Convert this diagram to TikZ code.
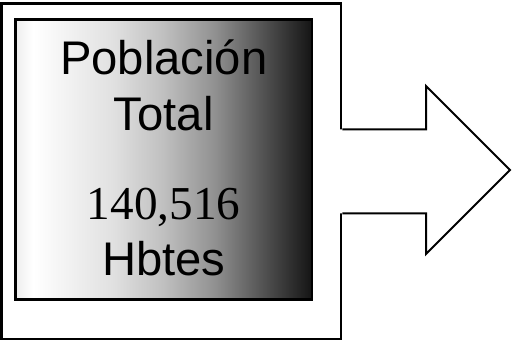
\documentclass[tikz,border=0pt]{standalone}
\usepackage{fontspec}
\setmainfont{Liberation Serif}
\newfontfamily\arialfont{Liberation Sans}
\usepackage{xcolor}
\usetikzlibrary{positioning,calc}
\definecolor{grisA}{gray}{0.93}
\definecolor{grisB}{gray}{0.88}
\definecolor{grisC}{gray}{0.75}
\definecolor{grisD}{gray}{0.57}
\definecolor{grisE}{gray}{0.33}
\definecolor{grisF}{gray}{0.08}
\pgfdeclarehorizontalshading{poblshade}{100bp}{color(0bp)=(grisA); color(25bp)=(grisA); color(28bp)=(white); color(41.5bp)=(grisB); color(50bp)=(grisC); color(58.5bp)=(grisD); color(66.5bp)=(grisE); color(75bp)=(grisF); color(100bp)=(grisF)}

\begin{document}
\begin{tikzpicture}[x=0.75pt,y=0.75pt,
    texto/.style={anchor=base,inner sep=0pt,font=\fontsize{35.4}{40}\selectfont}]
    \useasboundingbox (0,0) rectangle (512,343);
    % Outer frame
    \node[draw,line width=2pt,minimum width=254.6pt,minimum height=251.8pt,inner sep=0pt] (marco) at (171.25,171.85) {};

    % Shaded box
    \node[draw,line width=2.2pt,shading=poblshade,minimum width=222.5pt,minimum height=210.5pt,inner sep=0pt] (cuadro) at (163.65,183.5) {};
    \node[texto,font=\arialfont\fontsize{35.4}{40}\selectfont] (poblacion) at (163.7,268) {Población};
    \node[texto,font=\arialfont\fontsize{35.4}{40}\selectfont] (total) at (163.7,212) {Total};
    \node[texto] (cifra) at (163.7,123) {140,516};
    \node[texto,font=\arialfont\fontsize{35.4}{40}\selectfont] (hbtes) at (163.7,67) {Hbtes};

    % Arrow
    \fill[white] (338,213.7) -- (426,213.7) -- (426,257) -- (510,173) -- (426,89) -- (426,129.7) -- (338,129.7) -- cycle;
    \draw[line width=1.5pt] (marco.east |- 0,213.7) -- (426,213.7) -- (426,257) -- (510,173) -- (426,89) -- (426,129.7) -- (marco.east |- 0,129.7);
\end{tikzpicture}
\end{document}
